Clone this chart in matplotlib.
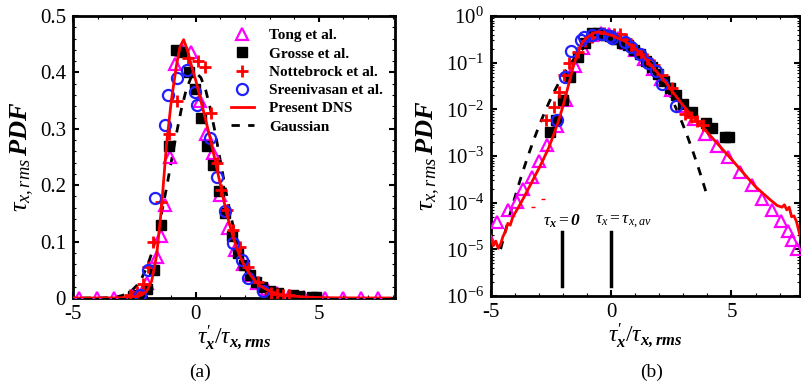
import matplotlib
matplotlib.use("Agg")
import matplotlib.pyplot as plt
from matplotlib.ticker import MultipleLocator, LogLocator, NullFormatter, FixedLocator

plt.rcParams['font.family'] = 'serif'
plt.rcParams['font.serif'] = ['Liberation Serif', 'DejaVu Serif']
plt.rcParams['mathtext.fontset'] = 'custom'
plt.rcParams['mathtext.rm'] = 'Liberation Serif'
plt.rcParams['mathtext.it'] = 'Liberation Serif:italic'
plt.rcParams['mathtext.bf'] = 'Liberation Serif:bold:italic'
plt.rcParams['axes.unicode_minus'] = False

# ---------------- data ----------------
dns_x = [-5.0, -4.9, -4.8, -4.7, -4.6, -4.5, -4.4, -4.3, -4.2, -4.1, -4.0, -3.8, -3.6, -3.4,
         -3.2, -3.0, -2.8, -2.6, -2.4, -2.2, -2.0, -1.8, -1.6, -1.4, -1.2, -1.0, -0.8, -0.65,
         -0.5, -0.35, -0.2, 0.0, 0.2, 0.4, 0.6, 0.8, 1.0, 1.25, 1.5, 1.75, 2.0, 2.3, 2.6, 3.0,
         3.4, 3.7, 4.0, 4.5, 5.0, 5.5, 6.0, 6.3, 6.6, 6.9, 7.1, 7.2, 7.3, 7.4, 7.5, 7.6, 7.7,
         7.8, 7.9]
dns_p = [1.7e-5, 1.2e-5, 1.5e-5, 1.05e-5, 1.3e-5, 1.9e-5, 2.4e-5, 3.6e-5, 3.3e-5, 4.8e-5,
         6e-5, 9e-5, 1.4e-4, 2.2e-4, 3.5e-4, 5.5e-4, 9e-4, 1.5e-3, 2.8e-3, 5.5e-3, 0.012,
         0.03, 0.075, 0.16, 0.27, 0.35, 0.41, 0.445, 0.458, 0.44, 0.415, 0.385, 0.35, 0.315,
         0.28, 0.24, 0.2, 0.15, 0.11, 0.078, 0.055, 0.036, 0.022, 0.012, 0.0068, 0.0048,
         0.0032, 0.00165, 8.5e-4, 4.3e-4, 2.2e-4, 1.6e-4, 1.17e-4, 8.7e-5, 8e-5, 9e-5, 7e-5,
         8e-5, 5e-5, 5.2e-5, 4e-5, 2.5e-5, 1.5e-5]

gauss_x = [-4.6, -4.4, -4.2, -4.0, -3.8, -3.6, -3.4, -3.2, -3.0, -2.8, -2.6, -2.4, -2.2, -2.0,
           -1.8, -1.6, -1.4, -1.2, -1.0, -0.8, -0.6, -0.4, -0.2, 0.0, 0.2, 0.4, 0.6, 0.8, 1.0,
           1.2, 1.4, 1.6, 1.8, 2.0, 2.2, 2.4, 2.6, 2.8, 3.0, 3.2, 3.4, 3.6, 3.8, 4.0]
gauss_p = [1.01e-5, 2.49e-5, 5.89e-5, 1.34e-4, 2.92e-4, 6.12e-4, 1.23e-3, 2.38e-3, 4.43e-3,
           7.92e-3, 0.0136, 0.0224, 0.0355, 0.054, 0.079, 0.1109, 0.1497, 0.1942, 0.242,
           0.2897, 0.3332, 0.3683, 0.391, 0.3989, 0.391, 0.3683, 0.3332, 0.2897, 0.242, 0.1942,
           0.1497, 0.1109, 0.079, 0.054, 0.0355, 0.0224, 0.0136, 7.92e-3, 4.43e-3, 2.38e-3,
           1.23e-3, 6.12e-4, 2.92e-4, 1.34e-4]

# Tong et al. as shown in panel (a) (linear axes)
tong_a_x = [-4.76, -4.04, -3.32, -2.6, -2.0, -1.6, -1.42, -1.26, -1.06, -0.85, -0.55, -0.18,
            0.16, 0.43, 0.7, 0.98, 1.3, 1.6, 1.9, 2.2, 2.5, 2.9, 3.3, 3.8, 4.4, 5.24, 5.98,
            6.7, 7.4]
tong_a_p = [2e-5, 1e-4, 3.5e-4, 0.003, 0.027, 0.073, 0.11, 0.165, 0.25, 0.415, 0.44, 0.437,
            0.35, 0.29, 0.257, 0.183, 0.125, 0.085, 0.06, 0.04, 0.027, 0.016, 0.009, 0.004,
            0.002, 3e-4, 1.2e-4, 4e-5, 1.5e-5]
# Tong et al. as shown in panel (b) (log axes)
tong_b_x = [-5.12, -4.76, -4.29, -3.93, -3.67, -3.31, -3.0, -2.69, -2.24, -1.88, -1.52,
            -1.16, -0.80, -0.44, -0.08, 0.28, 0.64, 1.00, 1.36, 1.72, 2.08, 2.5, 3.0, 3.45,
            3.9, 4.38, 4.85, 5.34, 5.84, 6.26, 6.67, 7.05, 7.34, 7.5, 7.71]
tong_b_p = [1.9e-5, 3.9e-5, 6.9e-5, 1.05e-4, 1.95e-4, 3.6e-4, 8e-4, 1.7e-3, 4.5e-3, 0.016,
            0.085, 0.21, 0.40, 0.44, 0.42, 0.33, 0.265, 0.19, 0.12, 0.072, 0.045, 0.026,
            0.012, 0.0062, 0.003, 0.0016, 9.5e-4, 4.6e-4, 2.4e-4, 1.2e-4, 6.9e-5, 4.1e-5,
            2.5e-5, 1.6e-5, 1.0e-5]

grosse_x = [-2.55, -2.3, -2.0, -1.7, -1.4, -1.1, -0.8, -0.55, -0.3, -0.05, 0.2, 0.45, 0.7,
            0.95, 1.2, 1.45, 1.7, 1.95, 2.2, 2.45, 2.7, 3.0, 3.34, 3.96, 4.2, 4.72, 4.9]
grosse_p = [0.0033, 0.006, 0.016, 0.05, 0.13, 0.27, 0.44, 0.436, 0.40, 0.37, 0.32, 0.27,
            0.235, 0.19, 0.15, 0.11, 0.08, 0.058, 0.04, 0.028, 0.02, 0.013, 0.0089, 0.005,
            0.004, 0.0026, 0.0025]

notte_x = [-2.7, -2.4, -2.17, -1.95, -1.74, -1.4, -1.1, -0.78, -0.32, 0.1, 0.37, 0.6, 0.84,
           1.04, 1.25, 1.5, 1.79, 2.11, 2.52, 3.05, 3.3, 3.55, 3.8]
notte_p = [0.0059, 0.011, 0.024, 0.055, 0.1, 0.17, 0.29, 0.35, 0.425, 0.42, 0.41, 0.328,
           0.239, 0.191, 0.156, 0.12, 0.09, 0.055, 0.028, 0.008, 0.0068, 0.0055, 0.0046]

sreeni_x = [-2.27, -1.93, -1.67, -1.26, -1.13, -0.78, -0.38, -0.04, 0.03, 0.57, 0.84, 1.2,
            1.52, 1.86, 2.1, 2.71]
sreeni_p = [0.006, 0.05, 0.177, 0.307, 0.36, 0.39, 0.404, 0.366, 0.342, 0.283, 0.215, 0.155,
            0.097, 0.067, 0.035, 0.012]

frag_x = [-3.24, -2.83]
frag_p = [8.2e-5, 1.2e-4]

mark_x = [-2.06, 0.0]
mark_lo = 1.6e-6
mark_hi = 2.3e-5
mark_labels = [r'$\tau_{\mathbf{x}}=\mathbf{0}$', r'$\tau_{x}=\tau_{x,av}$']
mark_text_x = [-2.06, -0.68]
mark_text_ha = ['center', 'left']

legend_labels = ['Tong et al.', 'Grosse et al.', 'Nottebrock et al.', 'Sreenivasan et al.',
                 'Present DNS', 'Gaussian']
xlabel = r"$\tau^{\prime}_{\mathbf{x}}/\tau_{\mathbf{x,rms}}$"
ylabel = r"$\tau_{x,rms}\,\mathbf{PDF}$"

# ---------------- figure ----------------
W, H = 801, 386
fig = plt.figure(figsize=(W / 100, H / 100), dpi=100)

def px_axes(l, r, t, b):
    return fig.add_axes([l / W, 1 - b / H, (r - l) / W, (b - t) / H])

axa = px_axes(73, 395, 16, 298)
axb = px_axes(491, 800, 16, 296)

MAG = '#ff00ff'
BLU = '#2020ff'
RED = '#ff0000'

def draw(ax, tx, tp):
    g, = ax.plot(gauss_x, gauss_p, color='black', lw=2.0, dashes=(3, 3), zorder=2)
    t, = ax.plot(tx, tp, ls='none', marker='^', ms=8, mfc='none', mec=MAG, mew=1.6, zorder=3)
    s, = ax.plot(grosse_x, grosse_p, ls='none', marker='s', ms=7.2, color='black', zorder=3)
    n, = ax.plot(notte_x, notte_p, ls='none', marker='+', ms=9, mec=RED, mew=2.0, zorder=3)
    c, = ax.plot(sreeni_x, sreeni_p, ls='none', marker='o', ms=8, mfc='none', mec=BLU,
                 mew=1.6, zorder=3)
    d, = ax.plot(dns_x, dns_p, color=RED, lw=2.0, zorder=4)
    return [t, s, n, c, d, g]

def style(ax):
    for s in ax.spines.values():
        s.set_linewidth(2.0)
    ax.tick_params(which='both', direction='in', top=True, right=True, labelsize=15)
    ax.tick_params(which='major', length=4, width=1.5, pad=5)
    ax.tick_params(which='minor', length=2.5, width=0.8)
    ax.xaxis.set_major_locator(FixedLocator([-5, 0, 5]))
    ax.xaxis.set_minor_locator(MultipleLocator(1))
    ax.set_xlabel(xlabel, fontsize=17, labelpad=0)
    ax.set_ylabel(ylabel, fontsize=19, labelpad=3)

# panel (a)
handles = draw(axa, tong_a_x, tong_a_p)
axa.set_xlim(-5, 8.1)
axa.set_ylim(0, 0.5)
style(axa)
axa.set_yticks([0, 0.1, 0.2, 0.3, 0.4, 0.5])
axa.set_yticklabels(['0', '0.1', '0.2', '0.3', '0.4', '0.5'])
axa.yaxis.set_minor_locator(MultipleLocator(0.02))
axa.legend(handles, legend_labels,
           loc='upper left', bbox_to_anchor=(0.49, 0.955), frameon=False,
           prop={'weight': 'bold', 'size': 11}, handlelength=1.5, handletextpad=1.0,
           labelspacing=0.3, borderpad=0, borderaxespad=0)

# panel (b)
draw(axb, tong_b_x, tong_b_p)
axb.plot(frag_x, frag_p, ls='none', marker='_', ms=3, mec=RED, mew=1.0, zorder=3)
axb.set_yscale('log')
axb.set_xlim(-5, 7.85)
axb.set_ylim(1e-6, 1)
style(axb)
axb.yaxis.set_major_locator(LogLocator(base=10, numticks=10))
axb.yaxis.set_minor_locator(LogLocator(base=10, subs=[2, 3, 4, 5, 6, 7, 8, 9], numticks=20))
axb.yaxis.set_minor_formatter(NullFormatter())
for xm, xt, ha, lab in zip(mark_x, mark_text_x, mark_text_ha, mark_labels):
    axb.plot([xm, xm], [mark_lo, mark_hi], color='black', lw=2.5, zorder=5)
    axb.text(xt, mark_hi * 1.15, lab, ha=ha, va='bottom', fontsize=12.5)

fig.text(200 / W, 1 - 372 / H, '(a)', ha='center', va='center', fontsize=14)
fig.text(652 / W, 1 - 372 / H, '(b)', ha='center', va='center', fontsize=14)

fig.savefig('out.png', dpi=100)
